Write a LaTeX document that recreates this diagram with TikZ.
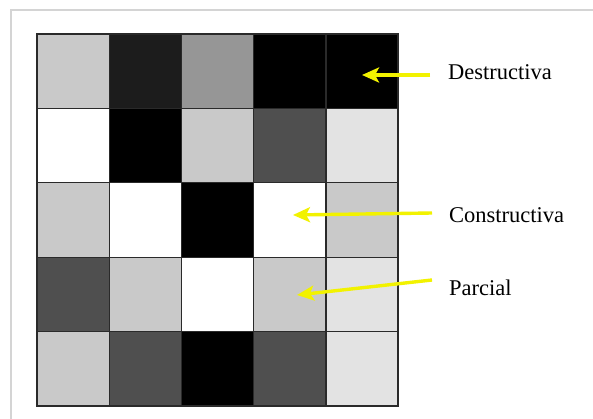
\documentclass[tikz,border=0pt]{standalone}
\usepackage{fontspec}
\setmainfont{Liberation Serif}
\usetikzlibrary{arrows.meta}
\definecolor{gA}{HTML}{C9C9C9}
\definecolor{gB}{HTML}{1C1C1C}
\definecolor{gC}{HTML}{969696}
\definecolor{gD}{HTML}{4F4F4F}
\definecolor{gE}{HTML}{E3E3E3}
\definecolor{gK}{HTML}{000000}
\definecolor{gW}{HTML}{FFFFFF}
\definecolor{frameline}{HTML}{D4D4D4}
\definecolor{gridline}{HTML}{2A2A2A}
\definecolor{pointer}{HTML}{F2F200}
\tikzset{
  cell/.style={draw=gridline, line width=1.4pt},
  tag/.style={anchor=base west, inner sep=0pt, font=\fontsize{22.5}{24}\selectfont},
  pointer arrow/.style={draw=pointer, line width=3.4pt,
    -{Stealth[length=17pt,width=15pt,inset=4pt]}}
}
\begin{document}
\begin{tikzpicture}[x=1pt,y=-1pt]
\useasboundingbox (0,0) rectangle (593,419);
\fill[white] (0,0) rectangle (593,419);
% outer frame (top and left edges only)
\draw[frameline, line width=2pt] (11,419) -- (11,10) -- (593,10);
% 5x5 grid of grey levels
\def\cw{72.2}
\def\ch{74.4}
\foreach \row/\colors in {0/{gA,gB,gC,gK,gK},
                          1/{gW,gK,gA,gD,gE},
                          2/{gA,gW,gK,gW,gA},
                          3/{gD,gA,gW,gA,gE},
                          4/{gA,gD,gK,gD,gE}}{
  \foreach \c [count=\col from 0] in \colors {
    \path[cell, fill=\c] ({37+\col*\cw},{34+\row*\ch}) rectangle ++(\cw,\ch);
  }
}
% labels
\node[tag] (dlab) at (448,80) {Destructiva};
\node[tag] (clab) at (449,222.5) {Constructiva};
\node[tag] (plab) at (449,295) {Parcial};
% arrow ends
\coordinate (dtail) at (430,75);
\coordinate (dhead) at (362,75);
\coordinate (ctail) at (432,213);
\coordinate (chead) at (293,215);
\coordinate (ptail) at (432,280);
\coordinate (phead) at (297,295);
\draw[pointer arrow] (dtail) -- (dhead);
\draw[pointer arrow] (ctail) -- (chead);
\draw[pointer arrow] (ptail) -- (phead);
\end{tikzpicture}
\end{document}
